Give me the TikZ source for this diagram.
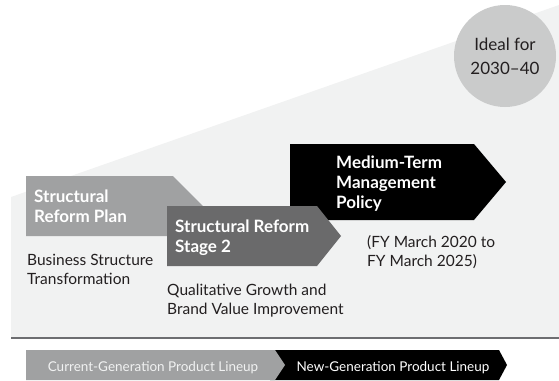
\documentclass[tikz,border=0pt]{standalone}
\usepackage{fontspec}
\setmainfont{Lato}
\definecolor{wedgegray}{HTML}{F1F2F2}
\definecolor{linegray}{HTML}{6D6E71}
\definecolor{planggray}{HTML}{A0A1A2}
\definecolor{stagegray}{HTML}{6A6A6B}
\definecolor{circlegray}{HTML}{CACBCB}
\definecolor{inkblack}{HTML}{231F20}
\begin{document}
\begin{tikzpicture}[x=1pt,y=-1pt,line join=miter,
	whitelabel/.style={anchor=base west,align=left,inner sep=0pt,text=white,font=\fontsize{17}{20}\selectfont\bfseries},
	blacklabel/.style={anchor=base west,align=left,inner sep=0pt,text=inkblack,font=\fontsize{15.5}{19}\selectfont},
	bartext/.style={anchor=base,inner sep=0pt,font=\fontsize{13.5}{15}\selectfont}]
	\useasboundingbox (0,0) rectangle (559,380);
	% background wedge and base line
	\fill[wedgegray] (11,197) -- (559,5) -- (559,337) -- (11,337) -- cycle;
	\draw[line width=2pt,color=linegray] (11,338) -- (559,338);
	\fill[circlegray] (505,56) circle (51);
	\node[align=center,anchor=base,inner sep=0pt,text=inkblack,font=\fontsize{17}{24}\selectfont] (ideal) at (505,74) {Ideal for\\2030--40};
	% the three steps
	\fill[planggray] (26,176) -- (173,176) -- (203,206) -- (173,236) -- (26,236) -- cycle;
	\fill[black] (290,144) -- (474,144) -- (506,182) -- (474,220) -- (290,220) -- cycle;
	\fill[stagegray] (167,206) -- (317,206) -- (341,236) -- (317,266) -- (167,266) -- cycle;
	\node[whitelabel] (plan) at (34,222) {Structural\\Reform Plan};
	\node[whitelabel] (stage) at (175,252) {Structural Reform\\Stage 2};
	\node[whitelabel] (policy) at (336,208) {Medium-Term\\Management\\Policy};
	\node[blacklabel] (transform) at (27,284) {Business Structure\\Transformation};
	\node[blacklabel] (growth) at (167,314) {Qualitative Growth and\\Brand Value Improvement};
	\node[blacklabel] (period) at (367,266) {(FY March 2020 to\\FY March 2025)};
	% product lineup bar
	\fill[black] (270,350) -- (499,350) -- (507,365) -- (499,380) -- (270,380) -- cycle;
	\fill[planggray] (26,350) -- (275,350) -- (285,365) -- (275,380) -- (26,380) -- cycle;
	\node[bartext,text=wedgegray] (current) at (153,371) {Current-Generation Product Lineup};
	\node[bartext,text=white] (next) at (393,371) {New-Generation Product Lineup};
\end{tikzpicture}
\end{document}
